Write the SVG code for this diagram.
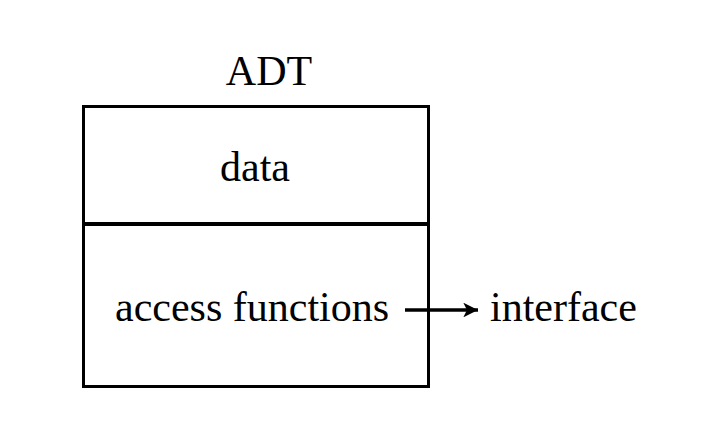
<svg xmlns="http://www.w3.org/2000/svg" width="724" height="436" viewBox="0 0 724 436">
<style>
text{font-family:"Liberation Serif","Times New Roman",serif;font-size:42px;fill:#000}
.box{fill:none;stroke:#000;stroke-width:3}
.div{stroke:#000;stroke-width:4}
.conn{stroke:#000;stroke-width:3.5;fill:none}
</style>
<defs>
<marker id="ah" viewBox="0 0 10 10" refX="10" refY="5" markerWidth="4.4" markerHeight="4.2" orient="auto" markerUnits="strokeWidth">
<path d="M0,0 L10,5 L0,10 L2.5,5 Z" fill="#000"/>
</marker>
</defs>
<rect width="724" height="436" fill="#fff"/>
<g id="adt">
<text x="269" y="85" text-anchor="middle">ADT</text>
<rect class="box" x="83.5" y="106.5" width="345" height="280"/>
<line class="div" x1="83.5" y1="224" x2="428.5" y2="224"/>
<text x="255" y="181" text-anchor="middle">data</text>
<text x="115" y="321">access functions</text>
</g>
<g id="interface">
<text x="490" y="321">interface</text>
</g>
<g id="connectors">
<line class="conn" x1="405" y1="310" x2="478" y2="310" marker-end="url(#ah)"/>
</g>
</svg>
